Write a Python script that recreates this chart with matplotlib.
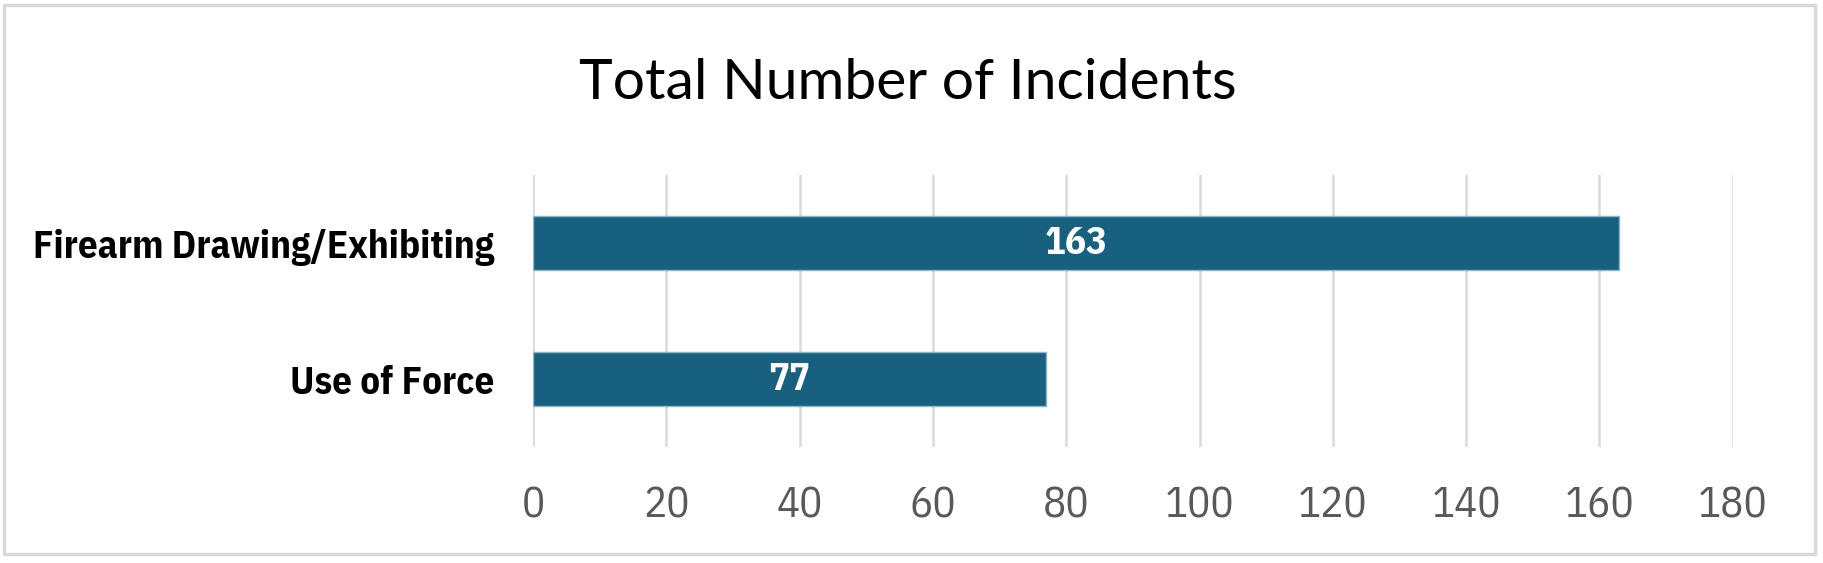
import matplotlib
matplotlib.use('Agg')
import matplotlib.pyplot as plt
from matplotlib.patches import Rectangle

# datos del grafico
categories = ['Use of Force', 'Firearm Drawing/Exhibiting']
values = [77, 163]
xticks = [0, 20, 40, 60, 80, 100, 120, 140, 160, 180]

narrow = ['IBM Plex Sans Condensed', 'DejaVu Sans']
title_font = ['Lato', 'DejaVu Sans']

fig = plt.figure(figsize=(18.24, 5.63), dpi=100)
ax = fig.add_axes([0.2922, 0.206, 0.950 - 0.2922, 0.689 - 0.206])

bar_color = '#17607F'
bars = ax.barh(range(len(categories)), values, height=0.4, color=bar_color,
               edgecolor='#8FB3C7', linewidth=1.0, zorder=3)

# etiquetas dentro de las barras
for bar, v in zip(bars, values):
    ax.text(bar.get_x() + bar.get_width() / 2, bar.get_y() + bar.get_height() / 2,
            f'{v}', ha='center', va='center', color='white',
            fontsize=28, fontweight='bold', family=narrow, zorder=4)

ax.set_xlim(0, 180)
ax.set_ylim(-0.5, 1.5)
ax.set_xticks(xticks)
ax.set_xticklabels([str(t) for t in xticks], fontsize=31, color='#595959', family=narrow)
ax.set_yticks(range(len(categories)))
ax.set_yticklabels(categories, fontsize=28, fontweight='bold', color='black', family=narrow)
ax.tick_params(axis='both', length=0)
ax.tick_params(axis='x', pad=28)
ax.tick_params(axis='y', pad=28)
ax.grid(axis='x', color='#D9D9D9', linewidth=1.8, zorder=0)
for s in ax.spines.values():
    s.set_visible(False)

fig.text(0.4975, 0.852, 'Total Number of Incidents', ha='center', va='center',
         fontsize=41, color='black', family=title_font)

# borde del grafico
fig.patches.append(Rectangle((4 / 1824, 9 / 563), 1811 / 1824, 549 / 563,
                             transform=fig.transFigure, fill=False,
                             edgecolor='#D9D9D9', linewidth=2.5))

fig.savefig('out.png', dpi=100)
